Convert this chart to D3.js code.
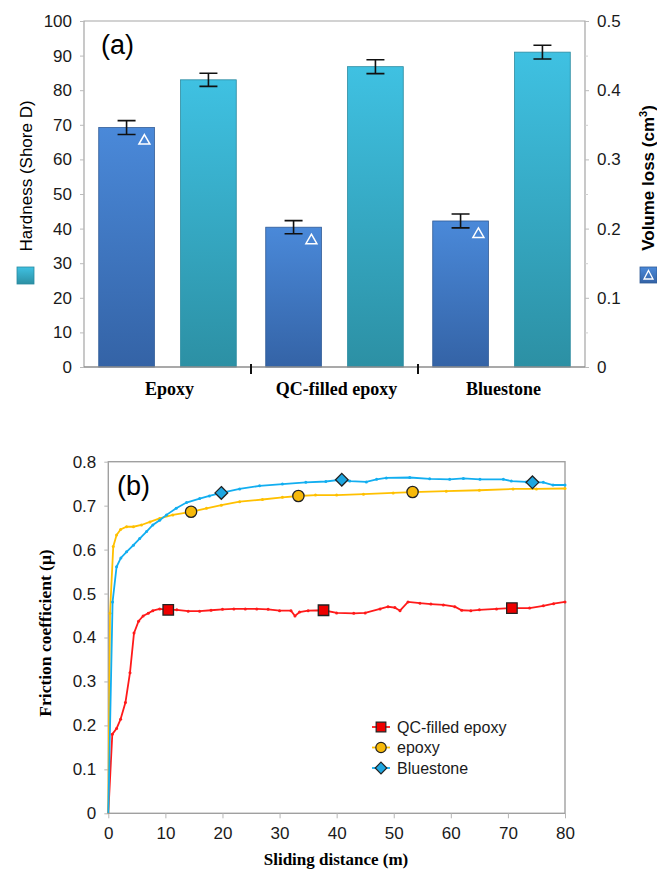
<!DOCTYPE html>
<meta charset="utf-8">
<body style="margin:0;background:#fff">
<script src="https://d3js.org/d3.v7.min.js"></script>
<script>
var width = 657,
    height = 870;

// panel (a) data
var categories = ["Epoxy", "QC-filled epoxy", "Bluestone"];
var volumeLoss = [0.346, 0.202, 0.211];
var volumeErr = [0.010, 0.0095, 0.010];
var hardness = [83, 86.8, 91];
var hardnessErr = [1.9, 2.0, 2.0];
var hardTicks = [0, 10, 20, 30, 40, 50, 60, 70, 80, 90, 100];
var volTicks = [0, 0.1, 0.2, 0.3, 0.4, 0.5];

// panel (b) data: [sliding distance, friction coefficient]
var qcFilled = [[0,0],[0.7,0.18],[1.45,0.193],[2.15,0.214],[3.0,0.252],[3.8,0.32],[4.5,0.41],[5.3,0.437],[6.1,0.449],[7,0.455],[7.8,0.461],[9,0.465],[10.5,0.463],[12,0.463],[14,0.46],[16,0.46],[18,0.462],[20,0.464],[22,0.465],[24,0.465],[26,0.465],[28,0.464],[30,0.461],[32,0.461],[32.7,0.449],[33.5,0.458],[35,0.461],[37.7,0.462],[40,0.456],[43,0.455],[45,0.456],[47.6,0.465],[49,0.47],[50.2,0.468],[51.1,0.461],[52.5,0.481],[54.6,0.478],[56.5,0.476],[58.7,0.474],[60.7,0.47],[61.9,0.462],[63.5,0.461],[65,0.463],[68,0.465],[70.7,0.467],[73.8,0.467],[76.2,0.472],[78,0.477],[80,0.481]];
var epoxy = [[0,0],[0.3,0.455],[0.87,0.607],[1.45,0.633],[2.15,0.646],[3.2,0.652],[4.4,0.652],[5.8,0.656],[7.3,0.663],[9,0.671],[11.3,0.679],[14.5,0.686],[17.2,0.694],[19.8,0.701],[23,0.709],[27,0.714],[30.5,0.719],[33.3,0.722],[36.3,0.724],[40,0.724],[44.7,0.726],[49.9,0.729],[53.3,0.731],[59.2,0.733],[65,0.735],[70.9,0.738],[75,0.738],[80,0.739]];
var bluestone = [[0,0],[0.75,0.481],[1.45,0.561],[2.2,0.581],[3.2,0.595],[4.4,0.61],[5.5,0.625],[6.7,0.641],[7.8,0.656],[9,0.667],[10.2,0.679],[11.9,0.694],[13.7,0.707],[16,0.716],[17.7,0.722],[19.8,0.729],[23,0.738],[26.5,0.745],[30.5,0.749],[34.6,0.753],[38.1,0.755],[40.9,0.759],[42.3,0.756],[45.2,0.754],[47,0.76],[48.7,0.763],[52.8,0.764],[56.3,0.761],[59.8,0.76],[62.2,0.762],[65.1,0.76],[69.2,0.76],[70.6,0.756],[73.2,0.754],[74.3,0.753],[76.2,0.753],[77.9,0.747],[80,0.747]];
var qcMarks = [[10.5,0.463],[37.7,0.462],[70.7,0.467]];
var epoxyMarks = [[14.5,0.686],[33.3,0.722],[53.3,0.731]];
var blueMarks = [[19.8,0.729],[40.9,0.759],[74.3,0.753]];
var seriesNames = ["QC-filled epoxy", "epoxy", "Bluestone"];
var fricTicks = [0, 0.1, 0.2, 0.3, 0.4, 0.5, 0.6, 0.7, 0.8];
var distTicks = [0, 10, 20, 30, 40, 50, 60, 70, 80];

var sans = "'Liberation Sans', Arial, sans-serif",
    serif = "'Liberation Serif', 'Times New Roman', serif";

var svg = d3.select("body").append("svg")
    .attr("width", width)
    .attr("height", height)
    .style("display", "block");

var defs = svg.append("defs");
function grad(id, c1, c2) {
  var g = defs.append("linearGradient").attr("id", id)
      .attr("x1", 0).attr("y1", 0).attr("x2", 0).attr("y2", 1);
  g.append("stop").attr("offset", "0%").attr("stop-color", c1);
  g.append("stop").attr("offset", "100%").attr("stop-color", c2);
}
grad("gDark", "#4a89d9", "#3463a6");
grad("gLight", "#3fc1e2", "#2c90a4");

// ---------- panel (a) ----------
var a = {left: 84, right: 585, top: 21, bottom: 367};

var x0 = d3.scaleBand().domain(categories).range([a.left, a.right]).padding(0);
var x1 = d3.scaleBand().domain(["vol", "hard"]).range([0, x0.bandwidth()])
    .paddingInner(0.32).paddingOuter(0.18);
var yHard = d3.scaleLinear().domain([0, 100]).range([a.bottom, a.top]);
var yVol = d3.scaleLinear().domain([0, 0.5]).range([a.bottom, a.top]);

// frame
svg.append("path")
    .attr("d", "M" + a.left + "," + a.bottom + "V" + a.top + "H" + a.right + "V" + a.bottom)
    .attr("fill", "none").attr("stroke", "#a5a5a5").attr("stroke-width", 1.2);

var leftAx = svg.append("g").attr("transform", "translate(" + a.left + ",0)")
    .call(d3.axisLeft(yHard).tickValues(hardTicks).tickSize(4).tickPadding(8));
var rightAx = svg.append("g").attr("transform", "translate(" + a.right + ",0)")
    .call(d3.axisRight(yVol).tickValues(volTicks).tickSize(4).tickPadding(8).tickFormat(d3.format("")));
svg.append("g").attr("transform", "translate(" + a.right + ",0)")
    .call(d3.axisRight(yVol).tickValues([0.05, 0.15, 0.25, 0.35, 0.45]).tickSize(3).tickFormat(""))
    .call(function(g) { g.select(".domain").remove(); g.selectAll("line").attr("stroke", "#d0d0d0"); });
[leftAx, rightAx].forEach(function(g) {
  g.select(".domain").remove();
  g.selectAll(".tick line").attr("stroke", "#bbb");
  g.selectAll(".tick text").attr("font-family", sans).attr("font-size", 17).attr("fill", "#1a1a1a");
});

var groups = svg.append("g").selectAll("g").data(categories).join("g")
    .attr("transform", function(d) { return "translate(" + x0(d) + ",0)"; });

groups.append("rect")
    .attr("x", x1("vol")).attr("width", x1.bandwidth())
    .attr("y", function(d, i) { return yVol(volumeLoss[i]); })
    .attr("height", function(d, i) { return a.bottom - yVol(volumeLoss[i]); })
    .attr("fill", "url(#gDark)").attr("stroke", "#2f5a96").attr("stroke-width", 0.8);
groups.append("rect")
    .attr("x", x1("hard")).attr("width", x1.bandwidth())
    .attr("y", function(d, i) { return yHard(hardness[i]); })
    .attr("height", function(d, i) { return a.bottom - yHard(hardness[i]); })
    .attr("fill", "url(#gLight)").attr("stroke", "#2a8aa0").attr("stroke-width", 0.8);

function errBar(g, cx, yTop, yBot) {
  g.append("path")
      .attr("d", "M" + (cx - 9) + "," + yTop + "H" + (cx + 9) + "M" + cx + "," + yTop + "V" + yBot +
                 "M" + (cx - 9) + "," + yBot + "H" + (cx + 9))
      .attr("fill", "none").attr("stroke", "#111").attr("stroke-width", 1.6);
}
groups.each(function(d, i) {
  var g = d3.select(this);
  var cv = x1("vol") + x1.bandwidth() / 2, ch = x1("hard") + x1.bandwidth() / 2;
  errBar(g, cv, yVol(volumeLoss[i] + volumeErr[i]), yVol(volumeLoss[i] - volumeErr[i]));
  errBar(g, ch, yHard(hardness[i] + hardnessErr[i]), yHard(hardness[i] - hardnessErr[i]));
  // triangle marker inside the volume-loss bar
  var tx = x1("vol") + x1.bandwidth() - 10, ty = yVol(volumeLoss[i]) + 12;
  g.append("path")
      .attr("d", "M" + tx + "," + (ty - 5) + "L" + (tx + 5.5) + "," + (ty + 4.5) + "L" + (tx - 5.5) + "," + (ty + 4.5) + "Z")
      .attr("fill", "none").attr("stroke", "#fff").attr("stroke-width", 1.5);
  g.append("text")
      .attr("x", x0.bandwidth() / 2 + 2).attr("y", 395)
      .attr("text-anchor", "middle")
      .attr("font-family", serif).attr("font-weight", "bold").attr("font-size", 18)
      .text(d);
});

// bottom axis line + group separators
svg.append("line").attr("x1", a.left).attr("x2", a.right).attr("y1", a.bottom).attr("y2", a.bottom)
    .attr("stroke", "#8c8c8c").attr("stroke-width", 1.4);
svg.append("g").selectAll("line").data(categories.slice(1)).join("line")
    .attr("x1", function(d) { return x0(d); }).attr("x2", function(d) { return x0(d); })
    .attr("y1", a.bottom - 3).attr("y2", a.bottom + 7)
    .attr("stroke", "#111").attr("stroke-width", 2);

svg.append("text").attr("x", 101).attr("y", 54)
    .attr("font-family", sans).attr("font-size", 27).text("(a)");

// axis titles with legend keys
svg.append("text")
    .attr("transform", "translate(32,176)rotate(-90)")
    .attr("text-anchor", "middle")
    .attr("font-family", sans).attr("font-size", 17)
    .text("Hardness (Shore D)");
svg.append("rect").attr("x", 17).attr("y", 267).attr("width", 17).attr("height", 17)
    .attr("fill", "url(#gLight)").attr("stroke", "#2a8aa0").attr("stroke-width", 0.8);

var vt = svg.append("text")
    .attr("transform", "translate(654,178)rotate(-90)")
    .attr("text-anchor", "middle")
    .attr("font-family", sans).attr("font-size", 17).attr("font-weight", "bold");
vt.append("tspan").text("Volume loss (cm");
vt.append("tspan").attr("dy", -7).attr("font-size", 11).text("3");
vt.append("tspan").attr("dy", 7).text(")");
svg.append("rect").attr("x", 640).attr("y", 267).attr("width", 17).attr("height", 16)
    .attr("fill", "url(#gDark)").attr("stroke", "#2f5a96").attr("stroke-width", 0.8);
svg.append("path").attr("d", "M648.5,270.5L653,279L644,279Z")
    .attr("fill", "none").attr("stroke", "#fff").attr("stroke-width", 1.3);

// ---------- panel (b) ----------
var b = {left: 108.3, right: 565, top: 461.7, bottom: 813.3};
var xs = d3.scaleLinear().domain([0, 80]).range([b.left, b.right]);
var ys = d3.scaleLinear().domain([0, 0.8]).range([b.bottom, b.top]);

svg.append("rect").attr("x", b.left).attr("y", b.top)
    .attr("width", b.right - b.left).attr("height", b.bottom - b.top)
    .attr("fill", "none").attr("stroke", "#a0a0a0").attr("stroke-width", 1.4);

var bx = svg.append("g").attr("transform", "translate(0," + b.bottom + ")")
    .call(d3.axisBottom(xs).tickValues(distTicks).tickSize(5).tickPadding(9));
var by = svg.append("g").attr("transform", "translate(" + b.left + ",0)")
    .call(d3.axisLeft(ys).tickValues(fricTicks).tickSize(4).tickPadding(8).tickFormat(d3.format("")));
[bx, by].forEach(function(g) {
  g.select(".domain").remove();
  g.selectAll(".tick line").attr("stroke", "#b5b5b5");
  g.selectAll(".tick text").attr("font-family", sans).attr("font-size", 17).attr("fill", "#1a1a1a");
});

// square rotated 45 degrees, like the reference's diamond markers
var diamond = {
  draw: function(ctx, size) {
    var r = Math.sqrt(size / 2);
    ctx.moveTo(0, -r); ctx.lineTo(r, 0); ctx.lineTo(0, r); ctx.lineTo(-r, 0); ctx.closePath();
  }
};

var line = d3.line().x(function(d) { return xs(d[0]); }).y(function(d) { return ys(d[1]); });
var series = [
  {data: qcFilled, marks: qcMarks, color: "#ff1a1a", fill: "#ee0000", shape: d3.symbolSquare, size: 110},
  {data: epoxy, marks: epoxyMarks, color: "#ffc000", fill: "#f7b90a", shape: d3.symbolCircle, size: 100},
  {data: bluestone, marks: blueMarks, color: "#12aef0", fill: "#1ea6e0", shape: diamond, size: 80}
];
var plot = svg.append("g");
series.forEach(function(s) {
  plot.append("path").datum(s.data).attr("d", line)
      .attr("fill", "none").attr("stroke", s.color).attr("stroke-width", 1.8);
  plot.append("g").selectAll("circle").data(s.data.slice(1)).join("circle")
      .attr("cx", function(d) { return xs(d[0]); }).attr("cy", function(d) { return ys(d[1]); })
      .attr("r", 1.5).attr("fill", s.color);
});
series.forEach(function(s) {
  plot.append("g").selectAll("path").data(s.marks).join("path")
      .attr("transform", function(d) { return "translate(" + xs(d[0]) + "," + ys(d[1]) + ")"; })
      .attr("d", d3.symbol().type(s.shape).size(s.size))
      .attr("fill", s.fill).attr("stroke", "#222").attr("stroke-width", 1.3);
});

// legend
var leg = svg.append("g").selectAll("g").data(series).join("g")
    .attr("transform", function(d, i) { return "translate(381," + (727 + i * 20.5) + ")"; });
leg.append("line").attr("x1", -9).attr("x2", 9)
    .attr("stroke", function(d) { return d.color; }).attr("stroke-width", 1.8);
leg.append("path")
    .attr("d", function(d) { return d3.symbol().type(d.shape).size(d.size * 0.85)(); })
    .attr("fill", function(d) { return d.fill; }).attr("stroke", "#222").attr("stroke-width", 1.2);
leg.append("text").attr("x", 16).attr("y", 0).attr("dy", "0.35em")
    .attr("font-family", sans).attr("font-size", 16).attr("fill", "#1a1a1a")
    .text(function(d, i) { return seriesNames[i]; });

svg.append("text").attr("x", 117).attr("y", 495)
    .attr("font-family", sans).attr("font-size", 27).text("(b)");

svg.append("text")
    .attr("transform", "translate(51,633)rotate(-90)")
    .attr("text-anchor", "middle")
    .attr("font-family", serif).attr("font-weight", "bold").attr("font-size", 17.5)
    .text("Friction coefficient (\u03bc)");
svg.append("text").attr("x", 336).attr("y", 865)
    .attr("text-anchor", "middle")
    .attr("font-family", serif).attr("font-weight", "bold").attr("font-size", 17)
    .text("Sliding distance (m)");
</script>
